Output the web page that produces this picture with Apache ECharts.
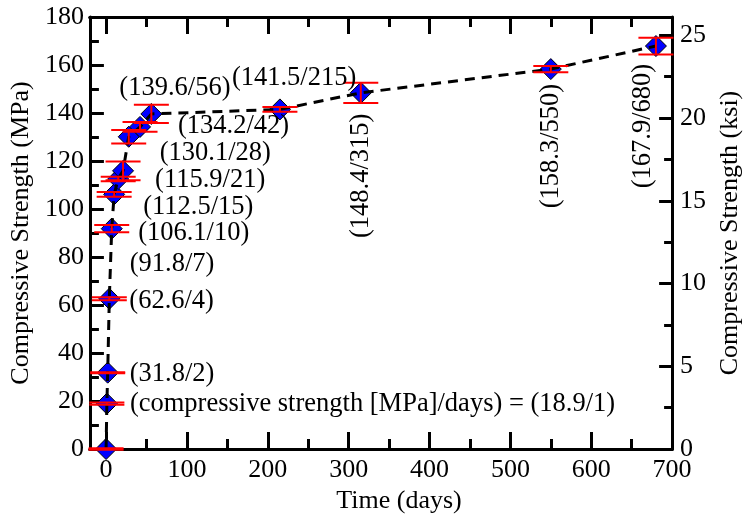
<!DOCTYPE html>
<html><head><meta charset="utf-8">
<script src="https://cdn.jsdelivr.net/npm/echarts@6/dist/echarts.min.js"></script>
<style>html,body{margin:0;padding:0;background:#fff}#c{width:751px;height:519px}</style>
</head><body><div id="c"></div>
<script>
// ---- data ----
const days = [0, 1, 2, 4, 7, 10, 15, 21, 28, 42, 56, 215, 315, 550, 680];
const strengthMPa = [0, 18.9, 31.8, 62.6, 91.8, 106.1, 112.5, 115.9, 130.1, 134.2, 139.6, 141.5, 148.4, 158.3, 167.9];
const errorMPa = [0.3, 0.5, 0.2, 0.6, 1.5, 1.0, 0.9, 3.9, 2.8, 2.0, 3.8, 1.0, 4.2, 1.3, 3.5];
const xTicks = [0, 100, 200, 300, 400, 500, 600, 700];
const xMinorTicks = [50, 150, 250, 350, 450, 550, 650];
const ksiTicks = [0, 5, 10, 15, 20, 25];
const ksiMinorTicks = [2.5, 7.5, 12.5, 17.5, 22.5];
const firstLabelPrefix = '(compressive strength [MPa]/days) = ';
const MPA_PER_KSI = 6.895;

// ---- label layout (pixel offsets from each point), separate from data ----
const labelLayout = [
  null,
  {dx: 23, dy: 0}, {dx: 22, dy: 1}, {dx: 20, dy: 2}, {dx: 18, dy: 35},
  {dx: 24, dy: 39}, {dx: 25, dy: 28}, {dx: 32, dy: 9}, {dx: 31, dy: 16},
  {dx: 38, dy: -1}, {dx: -32, dy: -26}, {dx: -48, dy: -31},
  {dx: 0, dy: 83, rot: true}, {dx: 0, dy: 77, rot: true}, {dx: -13, dy: 80, rot: true}
];

const FONT = '"Liberation Serif", "Times New Roman", serif';
const black = '#000';
const chart = echarts.init(document.getElementById('c'), null, {renderer: 'canvas'});

function xAxisCfg(pos, ticks, len, main) {
  return {
    type: 'value', min: -20, max: 700, position: pos, gridIndex: 0,
    axisLine: {show: true, onZero: false, lineStyle: {color: black, width: 3}},
    axisTick: {show: true, inside: true, length: len, customValues: ticks, lineStyle: {color: black, width: 3}},
    axisLabel: main ? {show: true, customValues: ticks, fontFamily: FONT, fontSize: 26, color: black, margin: 8} : {show: false},
    splitLine: {show: false},
    name: main ? 'Time (days)' : '', nameLocation: 'middle', nameGap: 34,
    nameTextStyle: {fontFamily: FONT, fontSize: 26, color: black, padding: [0, 0, 0, 36]}
  };
}

const lineData = days.map((d, i) => [d, strengthMPa[i]]);
const errData = days.map((d, i) => [d, strengthMPa[i], errorMPa[i]]);

const option = {
  animation: false,
  backgroundColor: '#fff',
  grid: {left: 88, right: 64, top: 17, bottom: 70, containLabel: false},
  xAxis: [
    xAxisCfg('bottom', xTicks, 17, true),
    xAxisCfg('bottom', xMinorTicks, 10, false),
    xAxisCfg('top', xTicks, 17, false),
    xAxisCfg('top', xMinorTicks, 10, false)
  ],
  yAxis: [
    {
      type: 'value', min: 0, max: 180, interval: 20, position: 'left',
      axisLine: {show: true, onZero: false, lineStyle: {color: black, width: 3}},
      axisTick: {show: true, inside: true, length: 14, lineStyle: {color: black, width: 3}},
      minorTick: {show: true, splitNumber: 2, length: 9, lineStyle: {color: black, width: 3}},
      axisLabel: {fontFamily: FONT, fontSize: 26, color: black, margin: 6},
      splitLine: {show: false}, minorSplitLine: {show: false},
      name: 'Compressive Strength (MPa)', nameLocation: 'middle', nameGap: 52,
      nameTextStyle: {fontFamily: FONT, fontSize: 26, color: black}
    },
    {
      type: 'value', min: 0, max: 180 / MPA_PER_KSI, position: 'right',
      axisLine: {show: true, onZero: false, lineStyle: {color: black, width: 3}},
      axisTick: {show: true, inside: true, length: 13, customValues: ksiTicks, lineStyle: {color: black, width: 3}},
      axisLabel: {customValues: ksiTicks, fontFamily: FONT, fontSize: 26, color: black, margin: 8},
      splitLine: {show: false},
      name: 'Compressive Strength (ksi)', nameLocation: 'middle', nameGap: 43, nameRotate: 90,
      nameTextStyle: {fontFamily: FONT, fontSize: 26, color: black}
    },
    {
      type: 'value', min: 0, max: 180 / MPA_PER_KSI, position: 'right',
      axisLine: {show: false, onZero: false},
      axisTick: {show: true, inside: true, length: 8, customValues: ksiMinorTicks, lineStyle: {color: black, width: 3}},
      axisLabel: {show: false}, splitLine: {show: false}
    }
  ],
  series: [
    {
      type: 'scatter', xAxisIndex: 0, yAxisIndex: 0, data: lineData, clip: false,
      symbol: 'diamond', symbolSize: [21, 21], z: 2,
      itemStyle: {color: '#0000ff', borderColor: '#000', borderWidth: 1, opacity: 1}
    },
    {
      type: 'line', xAxisIndex: 0, yAxisIndex: 0, data: lineData, clip: false,
      showSymbol: false, symbol: 'none', z: 3,
      lineStyle: {color: black, width: 3, type: [10, 7]}
    },
    {
      type: 'custom', xAxisIndex: 0, yAxisIndex: 0, data: errData, z: 4, clip: false,
      renderItem: function (params, api) {
        const x = api.value(0), y = api.value(1), e = api.value(2);
        const t = api.coord([x, y + e]), b = api.coord([x, y - e]);
        const hw = 17.5;
        const st = {stroke: '#ff0000', lineWidth: 2};
        return {type: 'group', children: [
          {type: 'line', shape: {x1: t[0], y1: t[1], x2: b[0], y2: b[1]}, style: st},
          {type: 'line', shape: {x1: t[0] - hw, y1: t[1], x2: t[0] + hw, y2: t[1]}, style: st},
          {type: 'line', shape: {x1: b[0] - hw, y1: b[1], x2: b[0] + hw, y2: b[1]}, style: st}
        ]};
      }
    }
  ]
};
chart.setOption(option);

// ---- data labels, anchored to the points through the chart's own scales ----
const texts = [];
days.forEach((d, i) => {
  const lay = labelLayout[i];
  if (!lay) return;
  const p = chart.convertToPixel({xAxisIndex: 0, yAxisIndex: 0}, [d, strengthMPa[i]]);
  let txt = '(' + strengthMPa[i] + '/' + d + ')';
  if (i === 1) txt = firstLabelPrefix + txt;
  texts.push({
    type: 'text', x: p[0] + lay.dx, y: p[1] + lay.dy, rotation: lay.rot ? Math.PI / 2 : 0, z: 10,
    style: {text: txt, fill: black, font: '26.5px ' + FONT,
      textAlign: lay.rot ? 'center' : 'left', textVerticalAlign: 'middle'}
  });
});
chart.setOption({graphic: texts});
</script>
</body></html>
